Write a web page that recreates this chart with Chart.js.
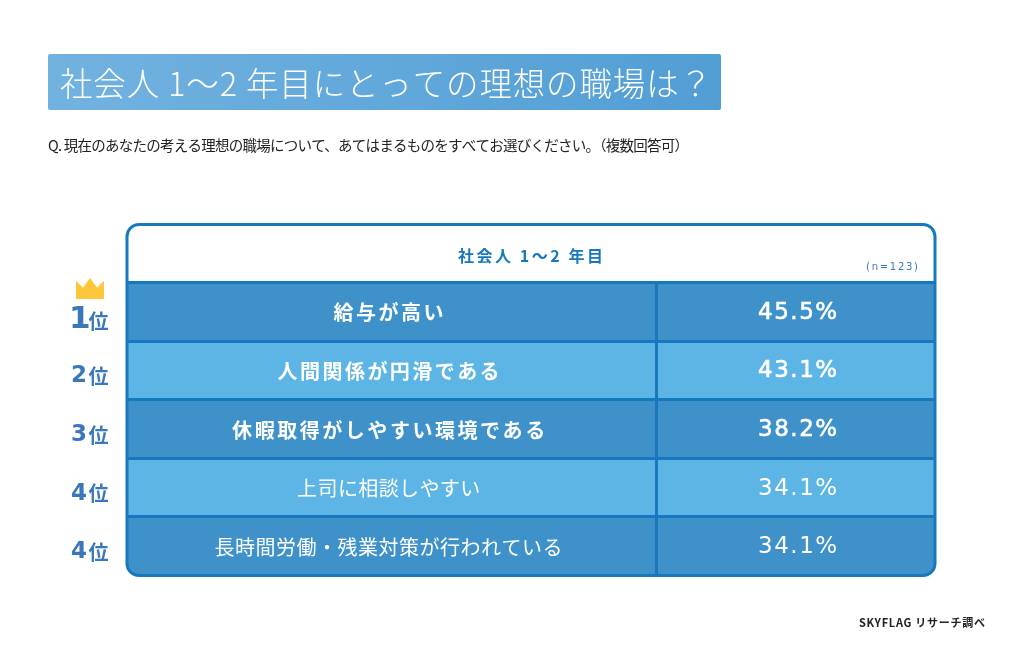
<!DOCTYPE html>
<html lang="ja"><head><meta charset="utf-8">
<style>html,body{margin:0;padding:0;background:#fff}canvas{display:block}</style>
<script src="https://cdn.jsdelivr.net/npm/chart.js@4"></script></head>
<body><canvas id="c" width="1024" height="649"></canvas>
<script>
const titleText = "社会人 1～2 年目にとっての理想の職場は？";
const questionText = "Q. 現在のあなたの考える理想の職場について、あてはまるものをすべてお選びください。（複数回答可）";
const headerText = "社会人 1～2 年目";
const sampleText = "(n=123)";
const sourceText = "SKYFLAG リサーチ調べ";
const categories = ["給与が高い","人間関係が円滑である","休暇取得がしやすい環境である","上司に相談しやすい","長時間労働・残業対策が行われている"];
const values = [45.5,43.1,38.2,34.1,34.1];
const ranks = ["1","2","3","4","4"];

const JP = '"Noto Sans CJK JP"', LINE = '#1679be', DARK = '#3f92c9', LIGHT = '#5db5e6', RANK = '#3a78b9';
const SPLIT = 0.655;
function put(ctx, str, x, y, width, font, color, align, thick){
  ctx.save();
  ctx.font = font; ctx.fillStyle = color; ctx.textBaseline = 'middle'; ctx.textAlign = 'left';
  ctx.letterSpacing = '0px';
  const natural = ctx.measureText(str).width;
  const n = [...str].length;
  const sp = n > 1 ? (width - natural) / (n - 1) : 0;
  ctx.letterSpacing = sp.toFixed(2) + 'px';
  const x0 = align === 'center' ? x - width / 2 : x;
  if (thick) { ctx.strokeStyle = color; ctx.lineWidth = thick; ctx.lineJoin = 'round'; ctx.strokeText(str, x0, y); }
  ctx.fillText(str, x0, y);
  ctx.restore();
}
const deco = {
  id: 'deco',
  beforeDraw(chart){
    const ctx = chart.ctx;
    ctx.save();
    ctx.fillStyle = '#fff'; ctx.fillRect(0,0,1024,649);
    const g = ctx.createLinearGradient(48,0,721,0);
    g.addColorStop(0,'#72b2e0'); g.addColorStop(1,'#519ed5');
    ctx.fillStyle = g;
    ctx.beginPath(); ctx.roundRect(48,54,673,56,2); ctx.fill();
    ctx.restore();
    put(ctx, titleText, 60, 84, 652, `300 32.5px ${JP}`, '#fff');
    put(ctx, questionText, 48, 145, 641, `400 14.5px ${JP}`, '#222');
    put(ctx, sourceText, 859, 623, 126, `700 11px ${JP}`, '#222');
  },
  afterDatasetsDraw(chart){
    const ctx = chart.ctx;
    const y = chart.scales.y, a = chart.chartArea;
    const cx = (a.left + chart.scales.x.getPixelForValue(SPLIT)) / 2;
    const vx = (chart.scales.x.getPixelForValue(SPLIT) + a.right) / 2;
    const labelW = [110,222,313,183,348];
    categories.forEach((c,i)=>{
      const py = y.getPixelForValue(i);
      const bold = i < 3;
      put(ctx, c, cx - 3, py + 1, labelW[i], `${bold?700:400} 20px ${JP}`, '#fff', 'center');
      put(ctx, values[i].toFixed(1)+'%', vx + 2, py + 1, 79, `400 23px "DejaVu Sans"`, '#fff', 'center', bold ? 0.6 : 0);
      const big = i === 0;
      put(ctx, ranks[i], big ? 69 : 71, py + (big ? 8 : 6), big ? 13 : 15, `700 ${big?31:23}px "DejaVu Sans"`, RANK);
      put(ctx, '位', 88.5, py + (big ? 10 : 6), 20, `700 20px ${JP}`, RANK);
    });
  },
  afterDraw(chart){
    const ctx = chart.ctx;
    ctx.save();
    ctx.strokeStyle = LINE; ctx.lineWidth = 3;
    ctx.beginPath(); ctx.roundRect(127,224.5,808,351,12); ctx.stroke();
    ctx.fillStyle = '#fec63a';
    ctx.beginPath();
    ctx.moveTo(76,299); ctx.lineTo(76,281); ctx.lineTo(83,287.5); ctx.lineTo(90,278);
    ctx.lineTo(97,287.5); ctx.lineTo(104,281); ctx.lineTo(104,299); ctx.closePath(); ctx.fill();
    ctx.restore();
    put(ctx, headerText, 458, 256, 145, `700 16px ${JP}`, LINE);
    put(ctx, sampleText, 866, 267, 52, `400 10px "DejaVu Sans"`, RANK);
  }
};
const last = categories.length - 1;
new Chart(document.getElementById('c'), {
  type: 'bar',
  plugins: [deco],
  data: {
    labels: categories,
    datasets: [
      { label: '項目', data: categories.map(()=>[0,SPLIT]),
        backgroundColor: ctx => ctx.dataIndex % 2 ? LIGHT : DARK,
        borderRadius: ctx => ctx.dataIndex === last ? {bottomLeft:12} : 0,
        borderSkipped: false, grouped: false },
      { label: '割合', data: categories.map(()=>[SPLIT,1]),
        backgroundColor: ctx => ctx.dataIndex % 2 ? LIGHT : DARK,
        borderRadius: ctx => ctx.dataIndex === last ? {bottomRight:12} : 0,
        borderSkipped: false, grouped: false }
    ]
  },
  options: {
    indexAxis: 'y', responsive: false, animation: false, devicePixelRatio: 1,
    layout: { padding: { left: 127, right: 89, top: 282.5, bottom: 73.5 } },
    barPercentage: 1, categoryPercentage: 1,
    plugins: { legend: { display: false }, tooltip: { enabled: false }, title: { display: false } },
    scales: {
      x: { min: 0, max: 1, border: { display: false },
        afterBuildTicks: s => { s.ticks = [{ value: SPLIT }]; },
        ticks: { display: false },
        grid: { z: 1, color: LINE, lineWidth: 3, drawTicks: false } },
      y: { border: { display: false }, ticks: { display: false },
        grid: { z: 1, color: LINE, drawTicks: false,
          lineWidth: ctx => ctx.index === undefined ? 0 : 3 } }
    }
  }
});
</script></body></html>
